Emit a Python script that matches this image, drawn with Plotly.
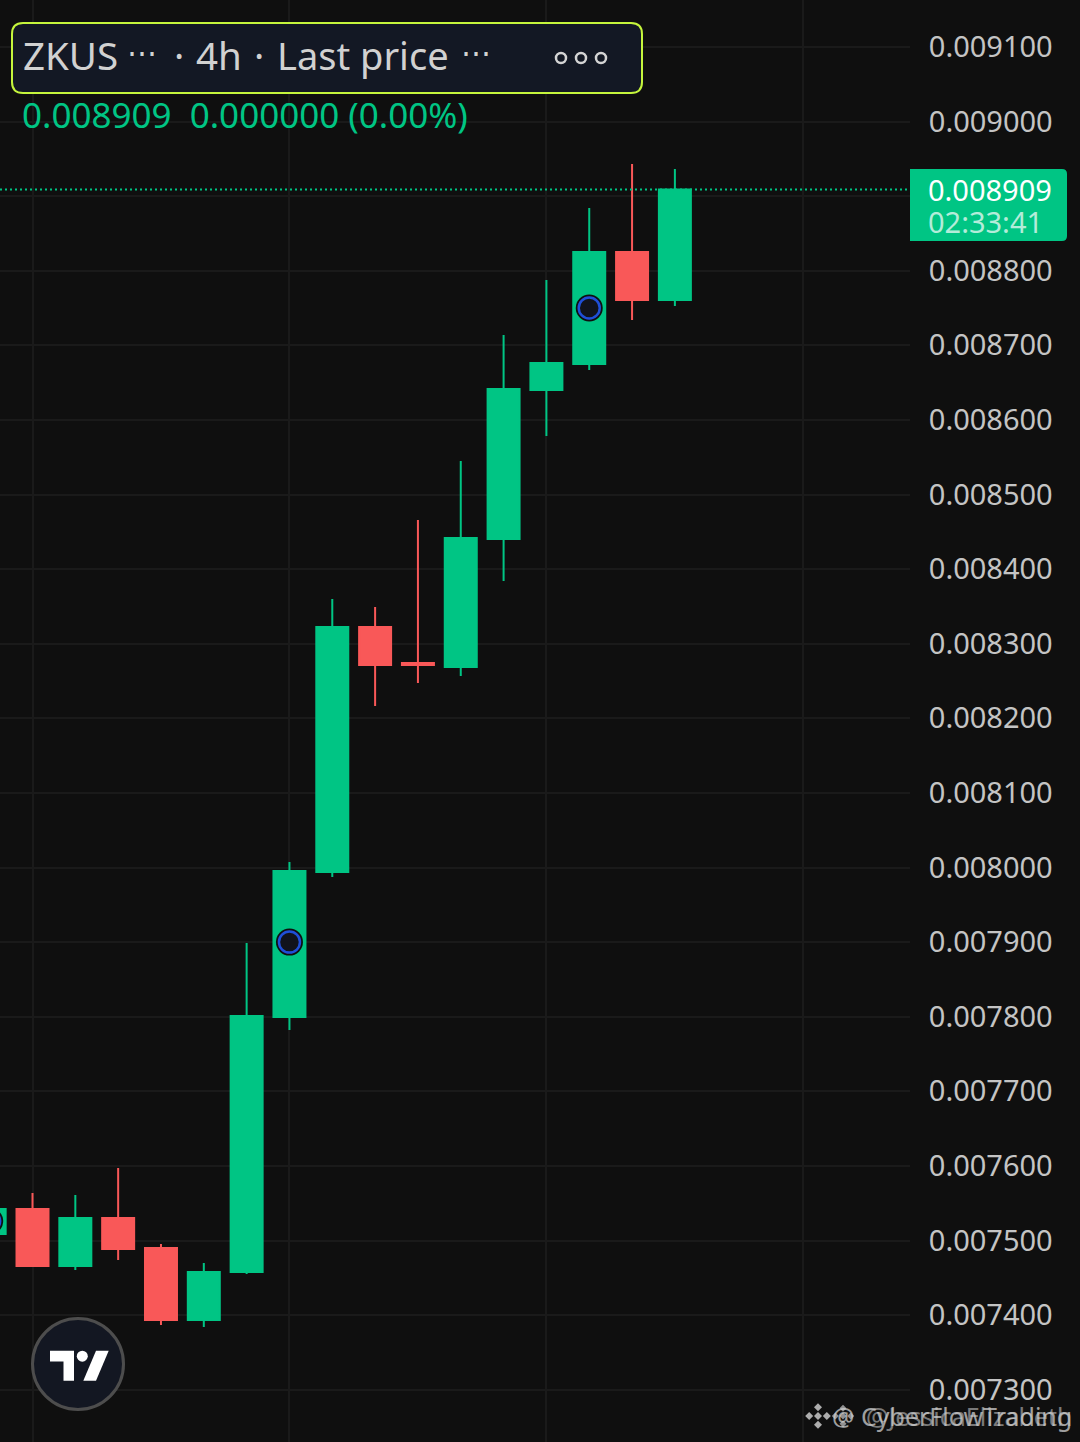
import plotly.graph_objects as go

W = 1080
H = 1442
PLOT_W = 910

BG = "#0f0f0f"
GRID = "#1a1a1a"
GREEN = "#00c584"
RED = "#f95858"
TEXT = "#c4c4c4"
FONT = "Noto Sans"

candle_index = [-1, 0, 1, 2, 3, 4, 5, 6, 7, 8, 9, 10, 11, 12, 13, 14, 15]
open_px = [0.0075087, 0.0075423, 0.0074658, 0.0075302, 0.0074900, 0.0073934, 0.0074578, 0.0077996, 0.0079940,
           0.0083224, 0.0082741, 0.0082688, 0.0084404, 0.0086401, 0.0086750, 0.0088251, 0.0087607]
high_px = [0.0075423, 0.0075637, 0.0075610, 0.0075972, 0.0074953, 0.0074698, 0.0078988, 0.0080074, 0.0083599,
           0.0083492, 0.0084658, 0.0085449, 0.0087138, 0.0087876, 0.0088841, 0.0089431, 0.0089364]
low_px = [0.0075087, 0.0074658, 0.0074605, 0.0074739, 0.0073867, 0.0073841, 0.0074551, 0.0077822, 0.0079873,
          0.0082165, 0.0082473, 0.0082567, 0.0083841, 0.0085784, 0.0086669, 0.0087339, 0.0087527]
close_px = [0.0075423, 0.0074658, 0.0075302, 0.0074886, 0.0073934, 0.0074578, 0.0078010, 0.0079953, 0.0083224,
            0.0082715, 0.0082715, 0.0084417, 0.0086414, 0.0086763, 0.0088251, 0.0087607, 0.0089090]

signal_index = [-1, 6, 13]
signal_px = [0.0075260, 0.0079000, 0.0087500]

last_price = 0.008909
price_ticks = [0.0073, 0.0074, 0.0075, 0.0076, 0.0077, 0.0078, 0.0079, 0.0080, 0.0081, 0.0082,
               0.0083, 0.0084, 0.0085, 0.0086, 0.0087, 0.0088, 0.0089, 0.0090, 0.0091]
hidden_tick = 0.0089
price_labels = ["" if t == hidden_tick else f"{t:.6f}" for t in price_ticks]


def px(x):
    return x / PLOT_W


def py(y):
    return 1 - y / H


def poly(points, fill, opacity=1.0):
    path = "M " + " L ".join(f"{px(x)} {py(y)}" for x, y in points) + " Z"
    return dict(type="path", xref="paper", yref="paper", path=path, fillcolor=fill, opacity=opacity,
                line=dict(width=0), layer="above")


def circle(cx, cy, r, fill, line_color=None, line_width=0):
    return dict(type="circle", xref="paper", yref="paper", x0=px(cx - r), x1=px(cx + r), y0=py(cy + r), y1=py(cy - r),
                fillcolor=fill, line=dict(color=line_color, width=line_width), layer="above")


def round_box(x0, y0, x1, y1, r_left, r_right, fill, line_color=None, line_width=0):
    path = (f"M {px(x0 + r_left)} {py(y0)} L {px(x1 - r_right)} {py(y0)} "
            f"Q {px(x1)} {py(y0)} {px(x1)} {py(y0 + r_right)} L {px(x1)} {py(y1 - r_right)} "
            f"Q {px(x1)} {py(y1)} {px(x1 - r_right)} {py(y1)} L {px(x0 + r_left)} {py(y1)} "
            f"Q {px(x0)} {py(y1)} {px(x0)} {py(y1 - r_left)} L {px(x0)} {py(y0 + r_left)} "
            f"Q {px(x0)} {py(y0)} {px(x0 + r_left)} {py(y0)} Z")
    return dict(type="path", xref="paper", yref="paper", path=path, fillcolor=fill,
                line=dict(color=line_color, width=line_width), layer="above")


def label(x, y, text, size, color, anchor="left", opacity=1.0, family=FONT):
    return dict(xref="paper", yref="paper", x=px(x), y=py(y), text=text, showarrow=False, xanchor=anchor,
                yanchor="middle", opacity=opacity, font=dict(family=family, size=size, color=color),
                borderpad=0, borderwidth=0)


def binance_logo(cx, cy, s, opacity):
    out = []
    for dx, dy, r in [(0, 0, s), (-2.2 * s, 0, s), (2.2 * s, 0, s), (0, -2.2 * s, s), (0, 2.2 * s, s)]:
        out.append(poly([(cx + dx - r, cy + dy), (cx + dx, cy + dy - r), (cx + dx + r, cy + dy), (cx + dx, cy + dy + r)],
                        "#c9c9c9", opacity))
    return out


fig = go.Figure()
fig.add_trace(go.Candlestick(
    x=candle_index, open=open_px, high=high_px, low=low_px, close=close_px,
    increasing=dict(line=dict(color=GREEN, width=2), fillcolor=GREEN),
    decreasing=dict(line=dict(color=RED, width=2), fillcolor=RED),
    whiskerwidth=0, showlegend=False,
))
fig.add_trace(go.Scatter(x=signal_index, y=signal_px, mode="markers", showlegend=False,
                         marker=dict(size=27, color="#0f0f0f")))
fig.add_trace(go.Scatter(x=signal_index, y=signal_px, mode="markers", showlegend=False,
                         marker=dict(size=21, color="#11131c", line=dict(color="#1f4fd8", width=2.5))))

shapes = [
    dict(type="line", xref="paper", yref="y", x0=0, x1=1, y0=last_price, y1=last_price, layer="above",
         line=dict(color=GREEN, width=2, dash="2px,3px")),
    round_box(12, 23, 642, 93, 11, 11, "#131824", "#c5f53c", 2),
    circle(561, 58, 5, "rgba(0,0,0,0)", "#d4d4d4", 2.5),
    circle(581, 58, 5, "rgba(0,0,0,0)", "#d4d4d4", 2.5),
    circle(601, 58, 5, "rgba(0,0,0,0)", "#d4d4d4", 2.5),
    round_box(910, 169, 1067, 241, 0, 5, GREEN),
    circle(78, 1364, 45.5, "#131722", "#4d4d4d", 3),
    poly([(50, 1350.7), (74, 1350.7), (74, 1380.7), (63.5, 1380.7), (63.5, 1361.5), (50, 1361.5)], "#ffffff"),
    circle(82.3, 1356.2, 5.5, "#ffffff"),
    poly([(96, 1350.7), (108.7, 1350.7), (96, 1380.7), (83.3, 1380.7)], "#ffffff"),
]
shapes += binance_logo(818, 1416, 4, 0.85)
shapes += binance_logo(843, 1416, 3.5, 0.7)

TITLE = "#d1d1d1"
annotations = [
    label(23, 55, "ZKUS", 38.5, TITLE),
    label(127, 52, "⋯", 30, TITLE),
    label(179, 55, "·", 38.5, TITLE, "center"),
    label(196, 55, "4h", 38.5, TITLE),
    label(259, 55, "·", 38.5, TITLE, "center"),
    label(277, 55, "Last price", 38, TITLE),
    label(461, 52, "⋯", 30, TITLE),
    label(22, 115, "0.008909  0.000000 (0.00%)", 35, GREEN),
    label(928, 190, "0.008909", 29, "#ffffff"),
    label(928, 222, "02:33:41", 29, "#b3ecd9"),
    label(1072, 1416, "@ CyberFlowTrading", 25, "#d0d0d0", "right", 0.75),
    label(1072, 1416, "@JessicaElizabeth", 25, "#d0d0d0", "right", 0.55),
]

fig.update_layout(
    width=W, height=H,
    margin=dict(l=0, r=W - PLOT_W, t=0, b=0),
    paper_bgcolor=BG, plot_bgcolor=BG,
    boxgap=0.1, boxgroupgap=0.17, showlegend=False,
    shapes=shapes, annotations=annotations,
    font=dict(family=FONT, color=TEXT),
    xaxis=dict(range=[-0.759, 20.49], tick0=0, dtick=6, showticklabels=False, ticks="", zeroline=False,
               showgrid=True, gridcolor=GRID, gridwidth=1.5, rangeslider=dict(visible=False), showline=False),
    yaxis=dict(range=[0.0072299, 0.00916287], side="right", tickmode="array", tickvals=price_ticks,
               ticktext=price_labels, ticks="outside", ticklen=12, tickcolor=BG, tickfont=dict(family=FONT, size=29, color=TEXT),
               showgrid=True, gridcolor=GRID, gridwidth=1.5, zeroline=False, showline=False),
)

# page margin off so the chart fills the window
fig.write_html("out.html", config=dict(displayModeBar=False),
               post_script="document.body.style.margin='0';document.body.style.background='#0f0f0f';")
